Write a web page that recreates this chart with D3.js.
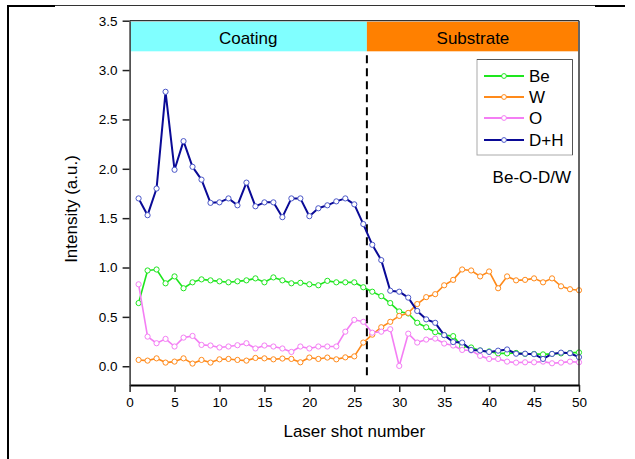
<!DOCTYPE html>
<html>
<head>
<meta charset="utf-8">
<script src="https://cdn.jsdelivr.net/npm/d3@7"></script>
<style>
  html, body { margin: 0; padding: 0; background: #fff; }
  svg { display: block; font-family: "Liberation Sans", Arial, sans-serif; }
</style>
</head>
<body>
<svg id="chart" width="635" height="459"></svg>
<script>
// Laser shot index
const shots = [1,2,3,4,5,6,7,8,9,10,11,12,13,14,15,16,17,18,19,20,21,22,23,24,25,
               26,27,28,29,30,31,32,33,34,35,36,37,38,39,40,41,42,43,44,45,46,47,48,49,50];

// Line intensities (a.u.) per shot
const beValues = [0.64,0.97,0.98,0.84,0.91,0.79,0.85,0.88,0.87,0.86,0.85,0.86,0.87,0.89,0.85,0.90,0.87,0.84,0.845,0.83,
                  0.82,0.865,0.85,0.85,0.85,0.80,0.755,0.71,0.64,0.555,0.535,0.44,0.395,0.345,0.315,0.305,0.20,0.19,0.16,0.15,
                  0.13,0.13,0.135,0.125,0.125,0.12,0.125,0.13,0.135,0.14];
const wValues = [0.064,0.057,0.08,0.037,0.047,0.08,0.027,0.064,0.037,0.07,0.074,0.064,0.057,0.084,0.08,0.07,0.078,0.074,0.04,0.088,
                 0.074,0.088,0.07,0.09,0.10,0.24,0.32,0.395,0.45,0.51,0.54,0.63,0.70,0.73,0.82,0.875,0.98,0.97,0.91,0.96,
                 0.79,0.91,0.87,0.875,0.89,0.85,0.89,0.81,0.78,0.77];
const oValues = [0.83,0.30,0.233,0.277,0.20,0.29,0.307,0.216,0.21,0.19,0.20,0.213,0.233,0.18,0.21,0.20,0.18,0.145,0.20,0.18,
                 0.20,0.20,0.20,0.35,0.47,0.45,0.34,0.35,0.375,0.003,0.33,0.24,0.27,0.28,0.23,0.21,0.165,0.16,0.105,0.074,
                 0.074,0.047,0.037,0.04,0.04,0.047,0.03,0.037,0.047,0.04];
const dhValues = [1.70,1.53,1.80,2.78,1.99,2.28,2.02,1.89,1.655,1.66,1.70,1.63,1.86,1.62,1.66,1.66,1.51,1.70,1.70,1.52,
                  1.60,1.63,1.67,1.70,1.64,1.44,1.23,1.075,0.765,0.755,0.695,0.56,0.475,0.44,0.315,0.245,0.24,0.165,0.16,0.145,
                  0.158,0.17,0.127,0.127,0.122,0.074,0.125,0.138,0.132,0.092];

const seriesNames = ["Be", "W", "O", "D+H"];
const seriesColors = ["#1ee61e", "#ff8a1a", "#f47ef4", "#0a0a96"];
const seriesValues = [beValues, wValues, oValues, dhValues];

const xTicks = [0,5,10,15,20,25,30,35,40,45,50];
const yTicks = [0.0,0.5,1.0,1.5,2.0,2.5,3.0,3.5];

// Region bands along the shot axis
const regionNames = ["Coating", "Substrate"];
const regionColors = ["#80ffff", "#ff8000"];
const regionBounds = [0, 26.4, 50];
const bandLow = 3.19;
const interfaceShot = 26.4;

const svg = d3.select("#chart");

const x = d3.scaleLinear().domain([0, 50]).range([129.6, 579]);
const y = d3.scaleLinear().domain([-0.19, 3.5]).range([385, 20.7]);

// outer figure border
const border = svg.append("g");
border.append("line").attr("x1", 8).attr("x2", 8).attr("y1", 5).attr("y2", 459)
  .attr("stroke", "#000").attr("stroke-width", 2);
border.append("line").attr("x1", 7).attr("x2", 55).attr("y1", 6).attr("y2", 6)
  .attr("stroke", "#000").attr("stroke-width", 2);
border.append("line").attr("x1", 55).attr("x2", 595).attr("y1", 5.5).attr("y2", 5.5)
  .attr("stroke", "#333").attr("stroke-width", 1);
border.append("line").attr("x1", 595).attr("x2", 625).attr("y1", 6).attr("y2", 6)
  .attr("stroke", "#000").attr("stroke-width", 2);

// region bands
regionNames.forEach((name, i) => {
  const x0 = x(regionBounds[i]), x1 = x(regionBounds[i + 1]);
  svg.append("rect")
    .attr("x", x0 + (i === 0 ? 1 : 0)).attr("y", y(3.5) + 1)
    .attr("width", x1 - x0 - (i === 0 ? 1 : 1)).attr("height", y(bandLow) - y(3.5) - 1)
    .attr("fill", regionColors[i]);
  svg.append("text")
    .attr("x", (x0 + x1) / 2).attr("y", 43.5)
    .attr("text-anchor", "middle").attr("font-size", 17).attr("fill", "#000")
    .text(name);
});

// coating / substrate interface
svg.append("line")
  .attr("x1", x(interfaceShot)).attr("x2", x(interfaceShot))
  .attr("y1", y(3.15)).attr("y2", y(-0.13))
  .attr("stroke", "#000").attr("stroke-width", 2).attr("stroke-dasharray", "8,5");

// series lines and markers
const line = d3.line().x((d, i) => x(shots[i])).y(d => y(d));
seriesValues.forEach((vals, s) => {
  const g = svg.append("g");
  g.append("path").datum(vals).attr("d", line)
    .attr("fill", "none").attr("stroke", seriesColors[s])
    .attr("stroke-width", s === 3 ? 2 : 1.6).attr("stroke-linejoin", "round");
  g.selectAll("circle").data(vals).join("circle")
    .attr("cx", (d, i) => x(shots[i])).attr("cy", d => y(d)).attr("r", 2.6)
    .attr("fill", "#fff").attr("stroke", s === 3 ? "#4a56c8" : seriesColors[s]).attr("stroke-width", 1);
});

// frame
svg.append("line").attr("x1", x(0)).attr("x2", x(50)).attr("y1", y(3.5)).attr("y2", y(3.5))
  .attr("stroke", "#333").attr("stroke-width", 1.2);
svg.append("line").attr("x1", x(50)).attr("x2", x(50)).attr("y1", y(3.5)).attr("y2", y(-0.19))
  .attr("stroke", "#333").attr("stroke-width", 1.5);

// axes
const xAxis = svg.append("g").attr("transform", `translate(0,${y(-0.19)})`)
  .call(d3.axisBottom(x).tickValues(xTicks).tickSize(7).tickSizeOuter(0).tickPadding(5).tickFormat(d3.format("d")));
xAxis.select(".domain").attr("stroke", "#000").attr("stroke-width", 2);
xAxis.selectAll(".tick line").attr("stroke", "#222").attr("stroke-width", 1.5);
xAxis.selectAll("text").attr("font-size", 13.5).attr("fill", "#000")
  .attr("font-family", "Liberation Sans, Arial, sans-serif");

const yAxis = svg.append("g").attr("transform", `translate(${x(0)},0)`)
  .call(d3.axisLeft(y).tickValues(yTicks).tickSize(7).tickSizeOuter(0).tickPadding(5).tickFormat(d3.format(".1f")));
yAxis.select(".domain").attr("stroke", "#333").attr("stroke-width", 1.5);
yAxis.selectAll(".tick line").attr("stroke", "#222").attr("stroke-width", 1.5);
yAxis.selectAll("text").attr("font-size", 13.5).attr("fill", "#000")
  .attr("font-family", "Liberation Sans, Arial, sans-serif");

// axis titles
svg.append("text").attr("x", (x(0) + x(50)) / 2).attr("y", 437)
  .attr("text-anchor", "middle").attr("font-size", 17).text("Laser shot number");
svg.append("text").attr("transform", "translate(77,209) rotate(-90)")
  .attr("text-anchor", "middle").attr("font-size", 17).text("Intensity (a.u.)");

// legend
const lg = svg.append("g");
lg.append("rect").attr("x", 477).attr("y", 59.5).attr("width", 95.5).attr("height", 95.5)
  .attr("fill", "#fff").attr("stroke", "#aaa").attr("stroke-width", 1);
lg.append("line").attr("x1", 477).attr("x2", 572.5).attr("y1", 59.5).attr("y2", 59.5)
  .attr("stroke", "#555").attr("stroke-width", 1);
lg.append("line").attr("x1", 572.5).attr("x2", 572.5).attr("y1", 59.5).attr("y2", 155)
  .attr("stroke", "#555").attr("stroke-width", 1);
const rowY = [76, 97, 118, 140];
seriesNames.forEach((name, s) => {
  lg.append("line").attr("x1", 484).attr("x2", 524).attr("y1", rowY[s]).attr("y2", rowY[s])
    .attr("stroke", seriesColors[s]).attr("stroke-width", 2);
  lg.append("circle").attr("cx", 504).attr("cy", rowY[s]).attr("r", 2.4)
    .attr("fill", "#fff").attr("stroke", s === 3 ? "#4a56c8" : seriesColors[s]).attr("stroke-width", 1);
  lg.append("text").attr("x", 529).attr("y", rowY[s] + 6).attr("font-size", 17).text(name);
});

svg.append("text").attr("x", 571).attr("y", 183).attr("text-anchor", "end")
  .attr("font-size", 17).text("Be-O-D/W");
</script>
</body>
</html>
